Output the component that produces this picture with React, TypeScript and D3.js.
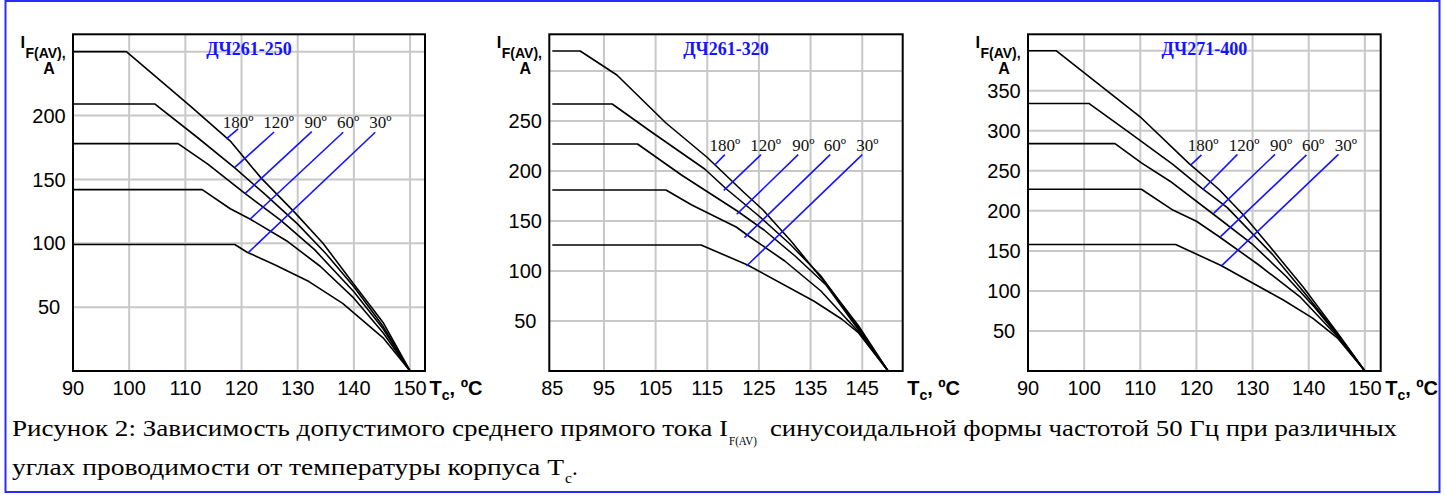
import React from "react";
import * as d3 from "d3";

type Pt = [number, number];

// ---------- shared labels ----------
const angleLabels = ["180º", "120º", "90º", "60º", "30º"];
const captionLine1a = "Рисунок 2: Зависимость допустимого среднего прямого тока I";
const captionSub1 = "F(AV)";
const captionLine1b = "синусоидальной формы частотой 50 Гц при различных";
const captionLine2a = "углах проводимости от температуры корпуса T";
const captionSub2 = "c";

// ---------- Panel 1: ДЧ261-250 ----------
const p1Title = "ДЧ261-250";
const p1Curve180: Pt[] = [[90, 250], [99.5, 250], [111, 207], [118, 180], [123.5, 151], [129.5, 124], [134.5, 100], [140, 68], [145.2, 38], [150, 0]];
const p1Curve120: Pt[] = [[90, 209], [104.6, 209], [112.1, 183], [118.8, 159], [124, 139], [130, 115], [135, 92], [140, 66], [145.2, 35], [150, 0]];
const p1Curve90: Pt[] = [[90, 178], [108.7, 178], [114, 162], [120.6, 139], [127, 118], [133, 95], [140, 62], [145.2, 33], [150, 0]];
const p1Curve60: Pt[] = [[90, 142], [113, 142], [118, 127], [121.5, 119], [128, 102], [134, 82], [140, 57], [145.2, 30], [150, 0]];
const p1Curve30: Pt[] = [[90, 99], [118.8, 99], [121, 93], [126, 83], [132, 70], [138, 53], [145.2, 26], [150, 0]];
const p1LeaderTop: Pt[] = [[119.4, 189.6], [125.8, 187.1], [132.5, 187.4], [138.1, 186.9], [143.8, 186.9]];
const p1LeaderEnd: Pt[] = [[117.3, 181.8], [118.8, 159.4], [120.6, 138.9], [121.5, 118.8], [121.2, 92.7]];
const p1LabelT = [119.4, 126.6, 133.2, 139, 144.7];
const p1LabelI = 190.3;
const p1XTicks = [90, 100, 110, 120, 130, 140, 150];
const p1YTicks = [50, 100, 150, 200];
const p1GridX = [100, 110, 120, 130, 140, 150];
const p1GridY = [50, 100, 150, 200, 250];

// ---------- Panel 2: ДЧ261-320 ----------
const p2Title = "ДЧ261-320";
const p2Curve180: Pt[] = [[85, 320], [90.4, 320], [97.5, 296], [107, 248], [114.9, 214], [122, 179], [125.8, 161], [131.2, 130], [138.8, 82], [144.3, 45], [150, 0]];
const p2Curve120: Pt[] = [[85, 267], [96.6, 267], [104.2, 239], [114.5, 202], [118.7, 182], [125, 155], [131, 127], [137, 95], [144.3, 43], [150, 0]];
const p2Curve90: Pt[] = [[85, 227], [101.5, 227], [110, 196], [120.8, 160], [126, 141], [132, 115], [138, 86], [144.3, 41], [150, 0]];
const p2Curve60: Pt[] = [[85, 181], [107, 181], [112, 166], [120.6, 144], [123, 135], [130, 110], [137, 80], [144.3, 39], [150, 0]];
const p2Curve30: Pt[] = [[85, 126], [113.8, 126], [122.8, 106], [135.6, 70], [141, 52], [144.3, 38], [150, 0]];
const p2LeaderTop: Pt[] = [[118.4, 216.4], [125.4, 216.4], [132.6, 216.4], [138.8, 216.4], [145, 216.4]];
const p2LeaderEnd: Pt[] = [[116.4, 205.7], [118.2, 180.7], [120.7, 156.7], [122.2, 133.4], [122.6, 105]];
const p2LabelT = [118.4, 126.3, 133.6, 139.7, 146];
const p2LabelI = 220;
const p2XTicks = [85, 95, 105, 115, 125, 135, 145];
const p2YTicks = [50, 100, 150, 200, 250];
const p2GridX = [95, 105, 115, 125, 135, 145];
const p2GridY = [50, 100, 150, 200, 250, 300];

// ---------- Panel 3: ДЧ271-400 ----------
const p3Title = "ДЧ271-400";
const p3Curve180: Pt[] = [[90, 400], [95, 400], [110.2, 316], [118.7, 259], [124, 227], [128.2, 196], [133, 156], [139, 105], [145.2, 47], [150, 0]];
const p3Curve120: Pt[] = [[90, 334], [100.9, 334], [108, 298], [115.8, 258], [121, 228], [125.5, 204], [133.5, 146], [139.3, 97], [145.2, 45.5], [150, 0]];
const p3Curve90: Pt[] = [[90, 284], [105.5, 284], [110.2, 260], [115.3, 237], [122.8, 197], [130, 158], [136, 118], [141, 80], [145.2, 44], [150, 0]];
const p3Curve60: Pt[] = [[90, 227], [110.2, 227], [115.8, 201], [120, 187], [124, 168], [131, 133], [138.4, 93], [145.2, 42.5], [150, 0]];
const p3Curve30: Pt[] = [[90, 158], [116.3, 158], [124.3, 132], [135.4, 89], [140.7, 66], [145.2, 40.6], [150, 0]];
const p3LeaderTop: Pt[] = [[120.9, 270], [127.3, 270.6], [134, 270.6], [139.6, 270], [145.3, 270.6]];
const p3LeaderEnd: Pt[] = [[119, 257.5], [121.1, 226.3], [123.1, 197.1], [124.3, 167.9], [124.5, 131.6]];
const p3LabelT = [121.2, 128.5, 135.1, 140.8, 146.6];
const p3LabelI = 275;
const p3XTicks = [90, 100, 110, 120, 130, 140, 150];
const p3YTicks = [50, 100, 150, 200, 250, 300, 350];
const p3GridX = [100, 110, 120, 130, 140, 150];
const p3GridY = [50, 100, 150, 200, 250, 300, 350, 400];

const SANS = "'Liberation Sans', Arial, Helvetica, sans-serif";
const SERIF = "'Liberation Serif', 'Times New Roman', Times, serif";
const BLUE = "#1414ff";

interface PanelProps {
  left: number;
  right: number;
  top: number;
  bottom: number;
  xDomain: [number, number];
  yDomain: [number, number];
  title: string;
  curves: Pt[][];
  leaderTop: Pt[];
  leaderEnd: Pt[];
  labelT: number[];
  labelI: number;
  xTicks: number[];
  yTicks: number[];
  gridX: number[];
  gridY: number[];
}

function Panel(p: PanelProps) {
  const x = d3.scaleLinear().domain(p.xDomain).range([p.left, p.right]);
  const y = d3.scaleLinear().domain(p.yDomain).range([p.bottom, p.top]);
  const line = d3
    .line<Pt>()
    .x((d) => x(d[0]))
    .y((d) => y(d[1]));
  const cx = (p.left + p.right) / 2;
  return (
    <g>
      <rect x={p.left} y={p.top} width={p.right - p.left} height={p.bottom - p.top} fill="#fff" />
      {p.gridX.map((t) => (
        <line key={"gx" + t} x1={x(t)} x2={x(t)} y1={p.top} y2={p.bottom} stroke="#c8c8c8" strokeWidth={2} />
      ))}
      {p.gridY.map((t) => (
        <line key={"gy" + t} x1={p.left} x2={p.right} y1={y(t)} y2={y(t)} stroke="#c8c8c8" strokeWidth={2} />
      ))}
      {p.curves.map((c, i) => (
        <path key={"c" + i} d={line(c) || ""} fill="none" stroke="#000" strokeWidth={1.6} strokeLinejoin="round" />
      ))}
      {p.leaderTop.map((s, i) => (
        <line
          key={"l" + i}
          x1={x(s[0])}
          y1={y(s[1])}
          x2={x(p.leaderEnd[i][0])}
          y2={y(p.leaderEnd[i][1])}
          stroke={BLUE}
          strokeWidth={1.6}
        />
      ))}
      {angleLabels.map((a, i) => (
        <text
          key={"a" + i}
          x={x(p.labelT[i])}
          y={y(p.labelI)}
          textAnchor="middle"
          fontFamily={SERIF}
          fontSize={17}
          fill="#111"
        >
          {a}
        </text>
      ))}
      <text x={cx} y={55} textAnchor="middle" fontFamily={SERIF} fontWeight="bold" fontSize={18} fill={BLUE}>
        {p.title}
      </text>
      <rect
        x={p.left}
        y={p.top}
        width={p.right - p.left}
        height={p.bottom - p.top}
        fill="none"
        stroke="#000"
        strokeWidth={2}
      />
      {p.yTicks.map((t) => (
        <text
          key={"yt" + t}
          x={p.left - 24}
          y={y(t)}
          dy="0.36em"
          textAnchor="middle"
          fontFamily={SANS}
          fontSize={20}
          fill="#000"
        >
          {t}
        </text>
      ))}
      {p.xTicks.map((t) => (
        <text key={"xt" + t} x={x(t)} y={395} textAnchor="middle" fontFamily={SANS} fontSize={20} fill="#000">
          {t}
        </text>
      ))}
      <text fontFamily={SANS} fontWeight="bold" fill="#000">
        <tspan x={p.left - 52.5} y={47.5} fontSize={16.5}>
          I
        </tspan>
        <tspan x={p.left - 47.5} y={57.5} fontSize={14}>
          F(AV),
        </tspan>
      </text>
      <text x={p.left - 24} y={73.5} textAnchor="middle" fontFamily={SANS} fontWeight="bold" fontSize={16} fill="#000">
        A
      </text>
      <text fontFamily={SANS} fontWeight="bold" fill="#000">
        <tspan x={p.right + 4.5} y={395} fontSize={20}>
          T
        </tspan>
        <tspan y={400} fontSize={14}>
          c
        </tspan>
        <tspan y={395} fontSize={20}>
          , ºC
        </tspan>
      </text>
    </g>
  );
}

export default function App() {
  return (
    <svg
      width={1446}
      height={495}
      viewBox="0 0 1446 495"
      style={{ position: "absolute", left: 0, top: 0, display: "block", background: "#fff" }}
    >
      <rect x={0} y={0} width={1446} height={495} fill="#fff" />
      <rect x={5.5} y={1} width={1434} height={491} fill="none" stroke="#2a2aff" strokeWidth={2} />
      <Panel
        left={73}
        right={425}
        top={34.3}
        bottom={371}
        xDomain={[90, 152.66]}
        yDomain={[0, 263.6]}
        title={p1Title}
        curves={[p1Curve180, p1Curve120, p1Curve90, p1Curve60, p1Curve30]}
        leaderTop={p1LeaderTop}
        leaderEnd={p1LeaderEnd}
        labelT={p1LabelT}
        labelI={p1LabelI}
        xTicks={p1XTicks}
        yTicks={p1YTicks}
        gridX={p1GridX}
        gridY={p1GridY}
      />
      <Panel
        left={549.3}
        right={902.7}
        top={34.3}
        bottom={371}
        xDomain={[84.42, 152.83]}
        yDomain={[0, 336.7]}
        title={p2Title}
        curves={[p2Curve180, p2Curve120, p2Curve90, p2Curve60, p2Curve30]}
        leaderTop={p2LeaderTop}
        leaderEnd={p2LeaderEnd}
        labelT={p2LabelT}
        labelI={p2LabelI}
        xTicks={p2XTicks}
        yTicks={p2YTicks}
        gridX={p2GridX}
        gridY={p2GridY}
      />
      <Panel
        left={1028}
        right={1380.7}
        top={34.3}
        bottom={371}
        xDomain={[90, 152.82]}
        yDomain={[0, 420.5]}
        title={p3Title}
        curves={[p3Curve180, p3Curve120, p3Curve90, p3Curve60, p3Curve30]}
        leaderTop={p3LeaderTop}
        leaderEnd={p3LeaderEnd}
        labelT={p3LabelT}
        labelI={p3LabelI}
        xTicks={p3XTicks}
        yTicks={p3YTicks}
        gridX={p3GridX}
        gridY={p3GridY}
      />
      <g fontFamily={SERIF} fill="#000">
        <text x={12} y={436} fontSize={23} textLength={716} lengthAdjust="spacingAndGlyphs">
          {captionLine1a}
        </text>
        <text x={729} y={445} fontSize={12.5} textLength={28} lengthAdjust="spacingAndGlyphs">
          {captionSub1}
        </text>
        <text x={770} y={436} fontSize={23} textLength={627} lengthAdjust="spacingAndGlyphs">
          {captionLine1b}
        </text>
        <text x={12} y={474.5} fontSize={23} textLength={552} lengthAdjust="spacingAndGlyphs">
          {captionLine2a}
        </text>
        <text x={565} y={483} fontSize={14} textLength={7} lengthAdjust="spacingAndGlyphs">
          {captionSub2}
        </text>
        <text x={572} y={474.5} fontSize={23}>
          .
        </text>
      </g>
    </svg>
  );
}
